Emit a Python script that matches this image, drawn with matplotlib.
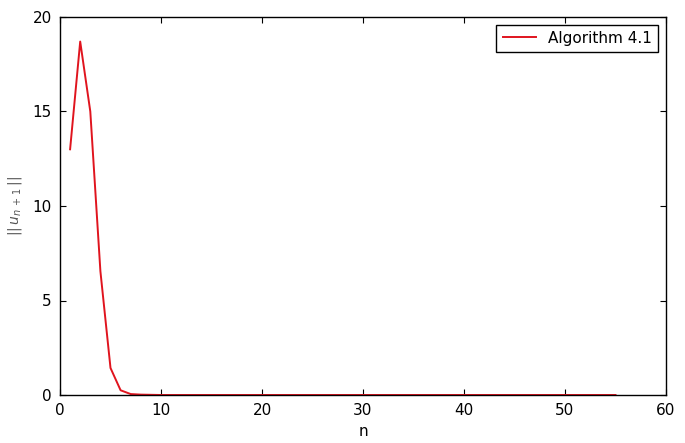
import matplotlib
matplotlib.use("Agg")
import matplotlib.pyplot as plt

n = list(range(1, 56))
head = [13.0, 18.7, 15.0, 6.55, 1.43, 0.25, 0.05, 0.02, 0.01]
norm = head + [0.0] * (len(n) - len(head))

fig = plt.figure(figsize=(6.85, 4.43), dpi=100)
ax = fig.add_axes([60/685, 1 - 395/443, (666-60)/685, (395-17)/443])
ax.plot(n, norm, color="#e0141e", lw=1.4, label="Algorithm 4.1")
ax.set_xlim(0, 60)
ax.set_ylim(0, 20)
ax.set_xticks([0, 10, 20, 30, 40, 50, 60])
ax.set_yticks([0, 5, 10, 15, 20])
ax.tick_params(direction="in", top=True, right=True, labelsize=11, length=4, pad=6)
for s in ax.spines.values():
    s.set_linewidth(1.0)
ax.set_xlabel("n", fontsize=11)
ax.set_ylabel(r"$||\,u_{n\,+\,1}\,||$", fontsize=10, color="#555555", labelpad=6)
leg = ax.legend(loc="upper right", fontsize=11, fancybox=False, framealpha=1,
                edgecolor="black", handlelength=2.2)
leg.get_frame().set_linewidth(1.0)
fig.savefig("out.png", dpi=100)
